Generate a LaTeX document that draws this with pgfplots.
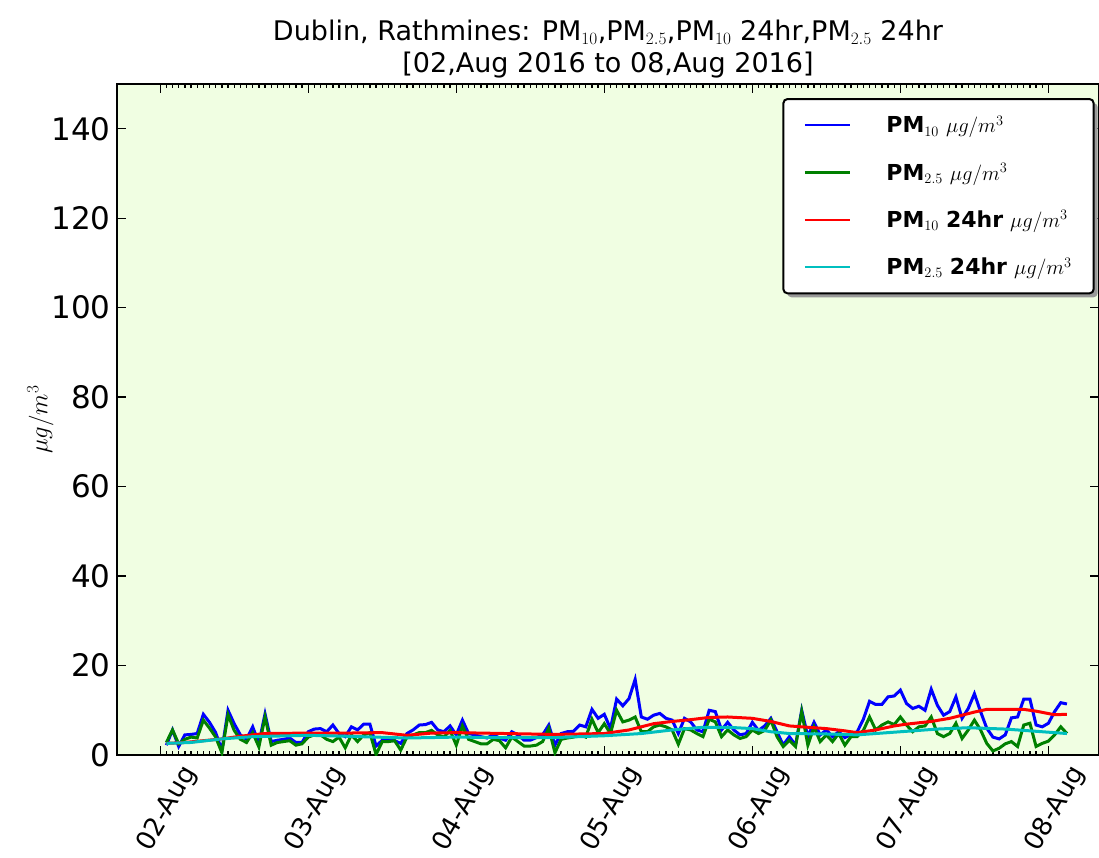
\documentclass[border=0pt]{standalone}
\usepackage{fontspec}
\setmainfont{DejaVu Sans}
\usepackage{pgfplots}
\pgfplotsset{compat=1.18}
\usetikzlibrary{shadows}
\makeatletter
\tikzset{no preactions/.code={\let\tikz@preactions\pgfutil@empty}}
\makeatother
\definecolor{bgc}{RGB}{240,254,226}
\definecolor{mc}{rgb}{0,0.75,0.75}
\definecolor{mg}{rgb}{0,0.5,0}
\begin{document}
\begin{tikzpicture}[x=1pt,y=1pt]
\useasboundingbox (-117,-102) rectangle (982,755);
\begin{axis}[
 at={(0,0)}, anchor=south west,
 scale only axis, width=982pt, height=671pt,
 xmin=-7, xmax=152.2, ymin=0, ymax=150,
 axis background/.style={fill=bgc},
 axis line style={line width=2pt},
 every tick/.style={line width=1.3pt, black},
 major tick length=9pt, minor tick length=4.5pt,
 tick align=inside,
 xtick={0,24,...,144},
 xticklabels={02-Aug,03-Aug,04-Aug,05-Aug,06-Aug,07-Aug,08-Aug},
 minor x tick num=23,
 ytick={0,20,...,140},
 /pgf/number format/assume math mode=true,
 yticklabel style={font=\fontsize{31}{35}\selectfont, xshift=-3pt},
 xticklabel style={font=\fontsize{26}{30}\selectfont, yshift=-54pt, xshift=7pt, rotate=60, anchor=center},
 title={Dublin, Rathmines: PM$_{10}$,PM$_{2.5}$,PM$_{10}$ 24hr,PM$_{2.5}$ 24hr\\{[}02,Aug 2016 to 08,Aug 2016]},
 title style={font=\fontsize{27}{32}\selectfont, align=center, at={(0.5,1)}, anchor=south, yshift=-4pt},
 ylabel={$\mu g/m^3$},
 ylabel style={font=\fontsize{26}{30}\selectfont, at={(axis description cs:-0.078,0.5)}, anchor=center},
 legend style={at={(0.9955,0.979)}, anchor=north east, draw=black, line width=2pt, rounded corners=4pt, fill=white,
   drop shadow={shadow xshift=4pt, shadow yshift=-4pt, fill=gray!80, opacity=1},
   nodes={no preactions},
   font=\fontsize{22}{26}\selectfont, row sep=25pt, inner xsep=20pt, inner ysep=15pt},
 legend cell align=left,
 legend image code/.code={\draw[no preactions, #1, line width=2.5pt] (0pt,0pt) -- (45pt,0pt); \path (0pt,0pt) (78pt,0pt);},
]
\addplot[blue, line width=3pt] coordinates {
(1,2.2)(2,5.6)(3,1.9)(4,4.5)(5,4.6)(6,4.8)(7,9.1)(8,7.3)(9,5.0)(10,1.0)(11,10.0)(12,7.0)(13,4.5)(14,3.5)(15,6.3)(16,2.6)(17,9.2)(18,3.0)(19,3.3)(20,3.5)(21,3.8)(22,2.8)(23,2.8)(24,5.2)
(25,5.8)(26,5.9)(27,5.2)(28,6.7)(29,4.8)(30,4.1)(31,6.3)(32,5.6)(33,6.9)(34,6.9)(35,2.0)(36,3.3)(37,3.3)(38,3.2)(39,2.6)(40,4.8)(41,5.6)(42,6.7)(43,6.8)(44,7.3)(45,5.6)(46,5.2)(47,6.5)(48,4.5)
(49,7.8)(50,4.8)(51,4.5)(52,4.1)(53,3.8)(54,4.5)(55,3.8)(56,3.3)(57,5.2)(58,4.5)(59,3.3)(60,3.3)(61,3.9)(62,4.5)(63,6.7)(64,2.2)(65,4.8)(66,5.2)(67,5.3)(68,6.7)(69,6.3)(70,10.2)(71,8.2)(72,9.1)
(73,5.9)(74,12.5)(75,11.0)(76,12.6)(77,16.9)(78,8.5)(79,8.0)(80,8.9)(81,9.3)(82,8.2)(83,7.8)(84,4.8)(85,8.2)(86,7.4)(87,5.6)(88,5.2)(89,10.0)(90,9.7)(91,5.6)(92,7.3)(93,5.6)(94,4.5)(95,4.8)(96,7.3)
(97,5.5)(98,6.5)(99,8.2)(100,5.2)(101,2.2)(102,4.1)(103,2.2)(104,10.0)(105,4.1)(106,7.3)(107,4.5)(108,5.6)(109,4.1)(110,5.2)(111,3.9)(112,4.6)(113,5.2)(114,8.0)(115,12.0)(116,11.3)(117,11.3)(118,13.0)(119,13.2)(120,14.5)
(121,11.5)(122,10.4)(123,10.9)(124,10.0)(125,14.7)(126,11.1)(127,8.9)(128,9.7)(129,13.0)(130,8.2)(131,10.4)(132,13.7)(133,9.7)(134,6.0)(135,4.0)(136,3.6)(137,4.5)(138,8.3)(139,8.5)(140,12.5)(141,12.5)(142,6.7)(143,6.3)(144,7.1)(145,9.7)(146,11.7)(147,11.4)
};
\addlegendentry{\textbf{PM}$_{10}$ $\mu g/m^3$}
\addplot[mg, line width=3pt] coordinates {
(1,2.8)(2,5.6)(3,2.5)(4,3.5)(5,4.0)(6,3.8)(7,7.8)(8,6.0)(9,4.0)(10,0.5)(11,9.0)(12,5.5)(13,3.5)(14,2.8)(15,5.0)(16,1.8)(17,8.5)(18,2.2)(19,2.8)(20,3.0)(21,3.2)(22,2.2)(23,2.5)(24,4.0)
(25,4.5)(26,4.5)(27,3.5)(28,3.0)(29,4.0)(30,1.6)(31,4.5)(32,3.0)(33,4.5)(34,5.0)(35,0.1)(36,3.0)(37,3.0)(38,3.2)(39,1.1)(40,4.0)(41,4.5)(42,5.0)(43,5.0)(44,5.5)(45,4.5)(46,4.0)(47,5.5)(48,2.2)
(49,6.5)(50,3.5)(51,3.0)(52,2.5)(53,2.5)(54,3.5)(55,3.2)(56,1.6)(57,4.0)(58,3.0)(59,2.0)(60,2.0)(61,2.2)(62,3.0)(63,6.0)(64,0.5)(65,3.5)(66,3.8)(67,4.0)(68,4.5)(69,4.0)(70,8.0)(71,5.0)(72,7.0)
(73,4.8)(74,10.0)(75,7.4)(76,7.8)(77,8.5)(78,5.2)(79,5.2)(80,6.3)(81,6.7)(82,6.3)(83,5.6)(84,2.4)(85,5.9)(86,5.6)(87,4.8)(88,4.1)(89,8.0)(90,7.4)(91,4.1)(92,5.6)(93,4.5)(94,3.7)(95,4.1)(96,5.6)
(97,4.8)(98,5.5)(99,7.8)(100,4.1)(101,1.9)(102,3.3)(103,1.9)(104,9.7)(105,2.2)(106,6.3)(107,3.0)(108,4.5)(109,3.0)(110,4.8)(111,2.2)(112,4.1)(113,4.1)(114,5.5)(115,8.5)(116,5.6)(117,6.7)(118,7.4)(119,6.8)(120,8.5)
(121,6.7)(122,5.2)(123,6.3)(124,6.5)(125,8.5)(126,4.8)(127,4.1)(128,4.8)(129,7.1)(130,3.7)(131,5.6)(132,7.8)(133,5.6)(134,2.6)(135,0.9)(136,1.5)(137,2.5)(138,3.0)(139,1.9)(140,6.7)(141,7.1)(142,1.9)(143,2.6)(144,3.1)(145,4.5)(146,6.3)(147,4.8)
};
\addlegendentry{\textbf{PM}$_{2.5}$ $\mu g/m^3$}
\addplot[red, line width=3pt] coordinates {
(1,2.6)(4,2.8)(7,3.2)(10,3.6)(13,4.2)(17,4.8)(24,4.9)(30,4.9)(36,5.0)(40,4.4)(44,4.9)(48,5.0)(56,4.8)(64,4.6)(72,4.8)(73,5.0)(76,5.6)(78,6.3)(80,7.0)(83,7.5)(86,7.9)(89,8.4)(92,8.5)(96,8.2)(99,7.5)(102,6.5)(105,6.2)(108,5.9)(111,5.4)(113,5.0)(116,5.6)(119,6.5)(121,6.9)(125,7.5)(128,8.2)(132,9.6)(134,10.2)(140,10.2)(142,9.8)(145,9.0)(147,9.1)
};
\addlegendentry{\textbf{PM}$_{10}$ \textbf{24hr} $\mu g/m^3$}
\addplot[mc, line width=3pt] coordinates {
(1,2.6)(5,2.8)(10,3.6)(15,4.1)(24,4.4)(30,4.2)(35,4.0)(40,3.8)(48,4.0)(56,3.9)(64,3.9)(72,4.3)(78,4.8)(83,5.6)(88,6.2)(92,6.2)(96,5.9)(99,5.2)(102,4.8)(108,4.7)(113,4.5)(120,5.2)(126,5.8)(131,6.1)(137,5.8)(142,5.3)(147,4.8)
};
\addlegendentry{\textbf{PM}$_{2.5}$ \textbf{24hr} $\mu g/m^3$}
\end{axis}
\end{tikzpicture}
\end{document}
